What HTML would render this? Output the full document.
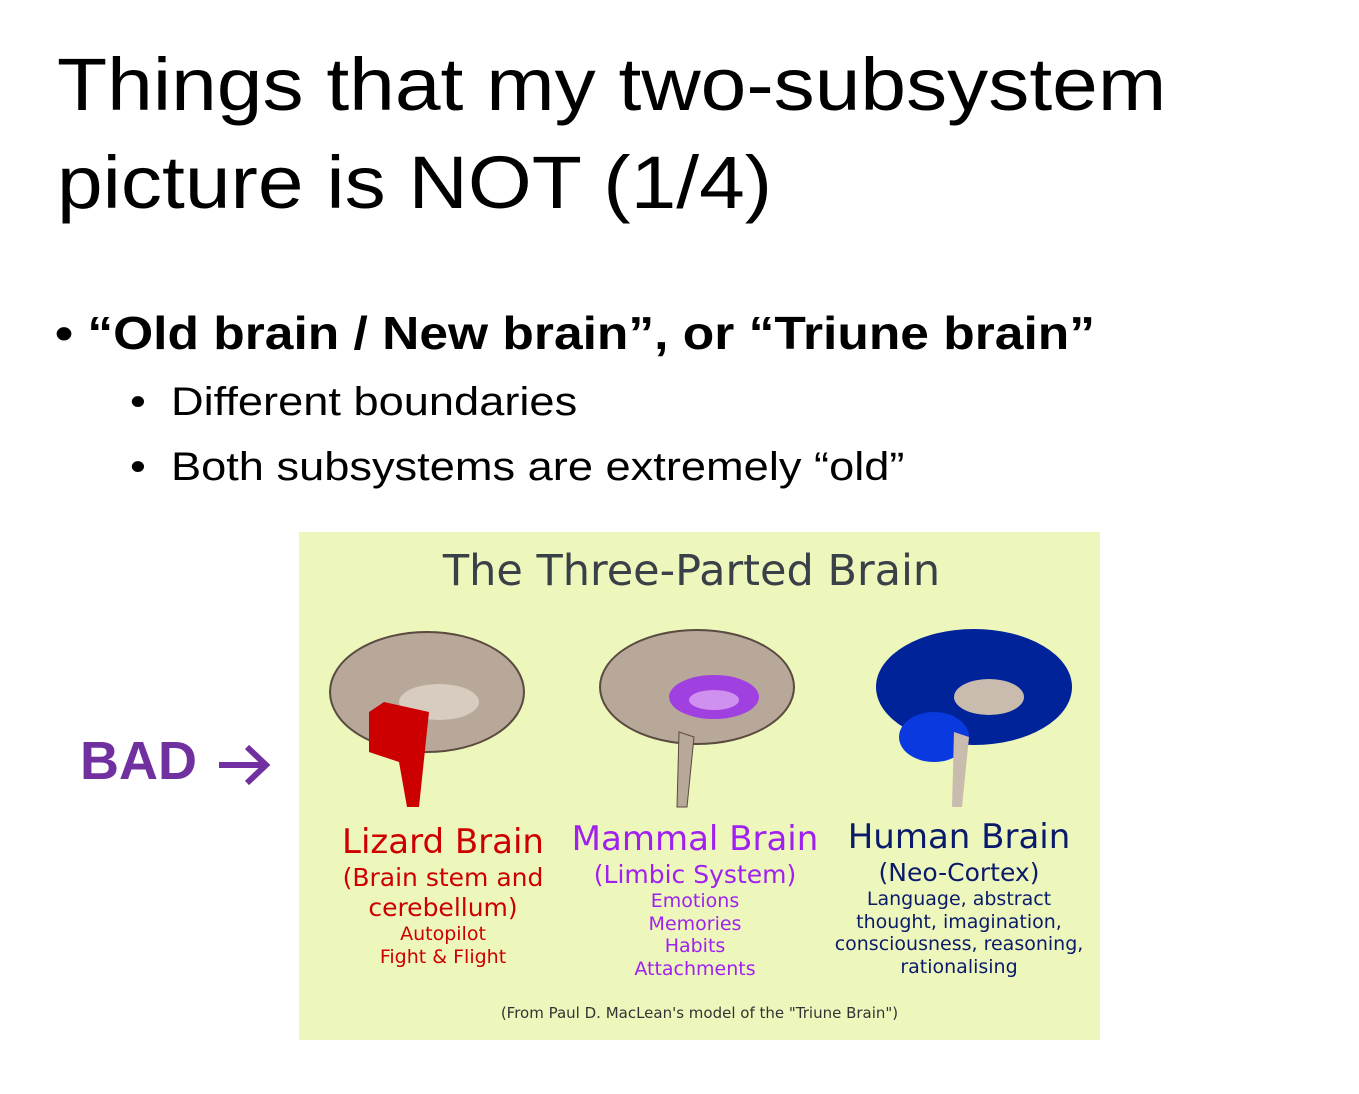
<!DOCTYPE html>
<html><head><meta charset="utf-8"><style>
body{margin:0;width:1359px;height:1094px;background:#fff;position:relative;overflow:hidden;font-family:"Liberation Sans",sans-serif}
.a{position:absolute;white-space:nowrap}
.t{left:57px;font-size:74px;color:#000;transform:scaleX(1.11);transform-origin:left}
.panel{position:absolute;left:299px;top:532px;width:801px;height:508px;background:#eef7bb}
.c{position:absolute;text-align:center;font-family:"DejaVu Sans",sans-serif;line-height:1.2}
</style></head><body>
<div class="a t" style="top:42px">Things that my two-subsystem</div>
<div class="a t" style="top:140px">picture is NOT (1/4)</div>
<div class="a" style="left:55px;top:306px;font-size:46px;font-weight:bold;transform:scaleX(1.12);transform-origin:left">• “Old brain / New brain”, or “Triune brain”</div>
<div class="a" style="left:130px;top:380px;font-size:40px;transform:scaleX(1.13);transform-origin:left">•&nbsp; Different boundaries</div>
<div class="a" style="left:130px;top:445px;font-size:40px;transform:scaleX(1.13);transform-origin:left">•&nbsp; Both subsystems are extremely “old”</div>
<div class="a" style="left:80px;top:730px;font-size:54px;font-weight:bold;color:#7030a0">BAD</div>
<svg class="a" style="left:215px;top:740px" width="60" height="50"><path d="M4 25 H50 M32 7 L51 25 L32 43" stroke="#7030a0" stroke-width="6" fill="none"/></svg>
<div class="panel">
<div class="c" style="left:0;width:785px;top:14px;font-size:43px;color:#3a4048">The Three-Parted Brain</div>
<svg width="801" height="290" style="position:absolute;left:0;top:90px">
<g>
<ellipse cx="128" cy="70" rx="97" ry="60" fill="#b7a89a" stroke="#5a4a40" stroke-width="2"/>
<ellipse cx="140" cy="80" rx="40" ry="18" fill="#d8ccc0"/>
<path d="M70 90 L85 80 L130 90 L120 185 L108 185 L100 140 L70 130Z" fill="#cc0000"/>
</g>
<g>
<ellipse cx="398" cy="65" rx="97" ry="57" fill="#b7a89a" stroke="#5a4a40" stroke-width="2"/>
<ellipse cx="415" cy="75" rx="45" ry="22" fill="#a040e0"/>
<ellipse cx="415" cy="78" rx="25" ry="10" fill="#d090f0"/>
<path d="M380 110 L395 115 L388 185 L378 185Z" fill="#b7a89a" stroke="#5a4a40"/>
</g>
<g>
<ellipse cx="675" cy="65" rx="98" ry="58" fill="#00239a"/>
<ellipse cx="635" cy="115" rx="35" ry="25" fill="#0a3adf"/>
<ellipse cx="690" cy="75" rx="35" ry="18" fill="#c9bcae"/>
<path d="M655 110 L670 115 L663 185 L653 185Z" fill="#c9bcae"/>
</g>
</svg>
<div class="c" style="left:10px;width:268px;top:290px;color:#cc0000"><div style="font-size:34px">Lizard Brain</div><div style="font-size:25px">(Brain stem and<br>cerebellum)</div><div style="font-size:19px">Autopilot<br>Fight &amp; Flight</div></div>
<div class="c" style="left:262px;width:268px;top:287px;color:#a020f0"><div style="font-size:34px">Mammal Brain</div><div style="font-size:25px">(Limbic System)</div><div style="font-size:19px">Emotions<br>Memories<br>Habits<br>Attachments</div></div>
<div class="c" style="left:520px;width:280px;top:285px;color:#0a1a6a"><div style="font-size:34px">Human Brain</div><div style="font-size:25px">(Neo-Cortex)</div><div style="font-size:19px">Language, abstract<br>thought, imagination,<br>consciousness, reasoning,<br>rationalising</div></div>
<div class="c" style="left:0;width:801px;top:472px;font-size:15px;color:#333">(From Paul D. MacLean's model of the "Triune Brain")</div>
</div>
</body></html>
